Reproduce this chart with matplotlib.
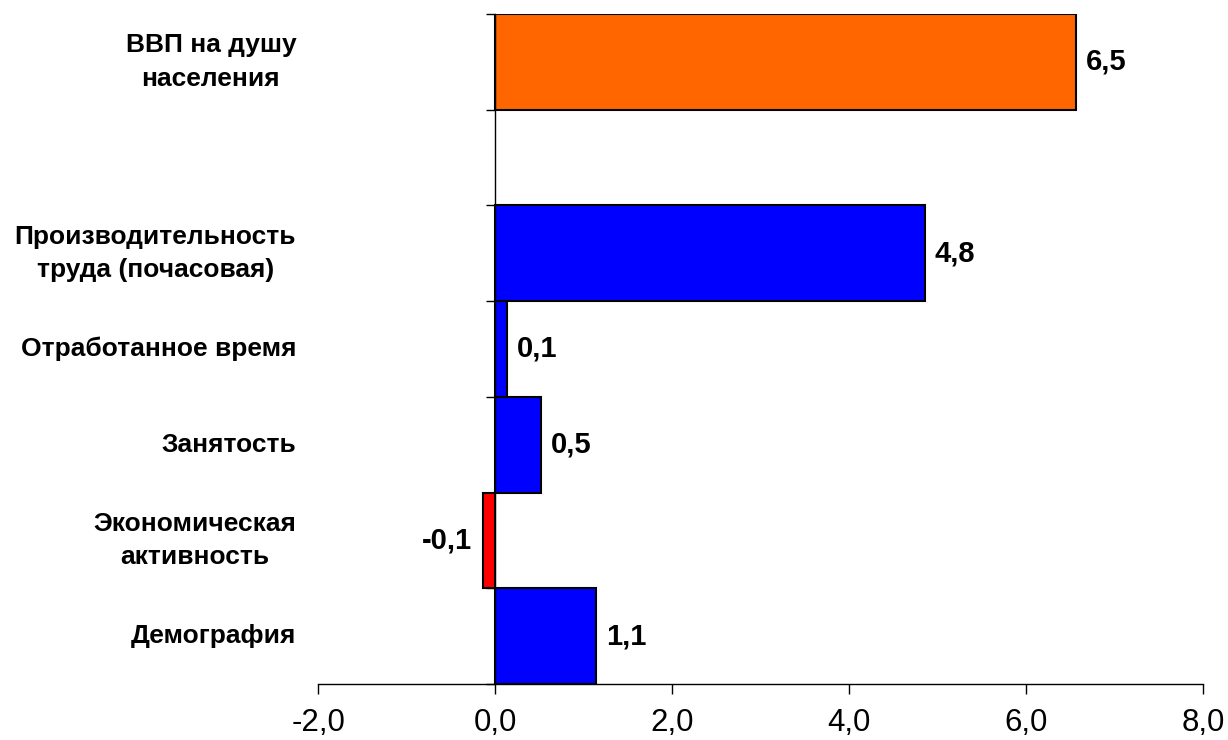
import matplotlib
matplotlib.use('Agg')
from matplotlib import pyplot as plt

plt.rcParams['font.family'] = ['Liberation Sans', 'DejaVu Sans']

##### Data (bottom to top) #####
categories = ['Демография', 'Экономическая\nактивность', 'Занятость',
              'Отработанное время', 'Производительность\nтруда (почасовая)',
              '', 'ВВП на душу\nнаселения']
values = [1.14, -0.14, 0.52, 0.13, 4.85, None, 6.56]
value_labels = ['1,1', '-0,1', '0,5', '0,1', '4,8', '', '6,5']
total_name = 'ВВП на душу\nнаселения'
x_ticks = [-2, 0, 2, 4, 6, 8]

##### Plot #####
fig = plt.figure(figsize=(12.28, 7.4), dpi=100)
ax = fig.add_axes([0.2592, 0.0757, 0.7208, 0.9054])

for i, (name, val, lab) in enumerate(zip(categories, values, value_labels)):
    if val is not None:
        if name == total_name:
            color = '#FF6600'
        elif val < 0:
            color = '#FF0000'
        else:
            color = '#0000FF'
        ax.barh(i, val, height=1.0, color=color, edgecolor='black', linewidth=1.5, zorder=2)
        if val >= 0:
            ax.annotate(lab, (val, i), xytext=(7, 0), textcoords='offset points',
                        ha='left', va='center', fontsize=21, fontweight='bold')
        else:
            ax.annotate(lab, (val, i), xytext=(-8, 0), textcoords='offset points',
                        ha='right', va='center', fontsize=21, fontweight='bold')
    if name:
        ax.text(-0.025, i, name, transform=ax.get_yaxis_transform(), ha='right', va='center',
                multialignment='center', linespacing=1.5, fontsize=19, fontweight='bold')

ax.set_xlim(-2, 8)
ax.set_ylim(-0.5, len(categories) - 0.5)
ax.set_xticks(x_ticks)
ax.set_xticklabels([('%.1f' % t).replace('.', ',') for t in x_ticks], fontsize=22.5)
ax.set_yticks([i - 0.5 for i in range(len(categories) + 1)])
ax.set_yticklabels([])

ax.spines['top'].set_visible(False)
ax.spines['right'].set_visible(False)
ax.spines['left'].set_position(('data', 0))
ax.spines['left'].set_linewidth(1.0)
ax.spines['bottom'].set_linewidth(1.0)
ax.spines['left'].set_zorder(3)
ax.tick_params(axis='x', direction='out', length=7, width=1.0, pad=10)
ax.tick_params(axis='y', direction='out', length=6.5, width=1.0)

plt.savefig('out.png', dpi=100)
